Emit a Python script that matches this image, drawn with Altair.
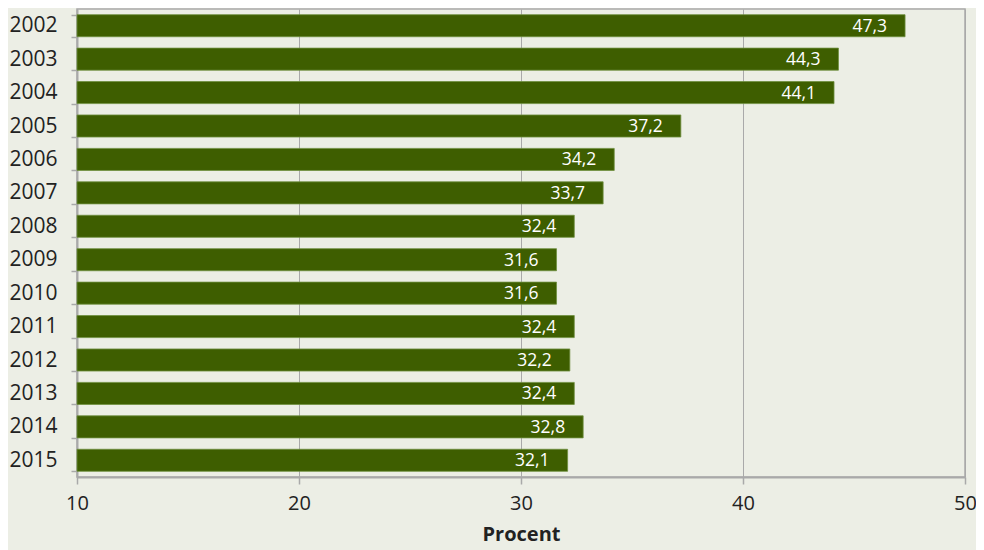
import altair as alt
import pandas as pd

years = ["2002", "2003", "2004", "2005", "2006", "2007", "2008", "2009",
         "2010", "2011", "2012", "2013", "2014", "2015"]
values = [47.3, 44.3, 44.1, 37.2, 34.2, 33.7, 32.4, 31.6, 31.6, 32.4,
          32.2, 32.4, 32.8, 32.1]
labels = [f"{v:.1f}".replace(".", ",") for v in values]

df = pd.DataFrame({"year": years, "value": values, "label": labels})

FONT = "Open Sans"
GRAY = "#a9a9a9"

base = alt.Chart(df).encode(
    y=alt.Y("year:N", sort=years, title=None,
            scale=alt.Scale(paddingInner=0.34, paddingOuter=0.17),
            axis=alt.Axis(tickBand="extent", tickSize=6, tickColor=GRAY,
                          tickWidth=1.5, domainColor=GRAY, domainWidth=2,
                          labelFontSize=21, labelColor="#222222",
                          labelPadding=14, labelFont=FONT)),
)

bars = base.mark_bar(color="#3e5e00", stroke="#6f8f3f", strokeWidth=0.8).encode(
    x=alt.X("value:Q", title="Procent",
            scale=alt.Scale(domain=[10, 50], zero=False, nice=False),
            axis=alt.Axis(values=[10, 20, 30, 40, 50], grid=True,
                          gridColor=GRAY, gridWidth=1, tickSize=7,
                          tickColor=GRAY, tickWidth=1.5, domainColor=GRAY,
                          domainWidth=2, labelFontSize=20, labelColor="#222222",
                          labelPadding=9, labelFont=FONT, labelFlush=False,
                          titleFont=FONT, titleFontSize=20, titleFontWeight="bold",
                          titleColor="#222222", titlePadding=11)),
    x2=alt.datum(10),
)

text = base.mark_text(align="right", baseline="middle", dx=-18, dy=1,
                      color="white", fontSize=17.5, font=FONT).encode(
    x=alt.X("value:Q"),
    text="label:N",
)

chart = (bars + text).properties(
    width=888, height=468,
    background="#eceee5",
    padding={"left": 69, "top": 1, "right": 11, "bottom": 73},
    autosize=alt.AutoSizeParams(type="none"),
).configure_view(stroke=GRAY, strokeWidth=1.5)

chart.save("out.html", embed_options={"renderer": "svg", "actions": False})
